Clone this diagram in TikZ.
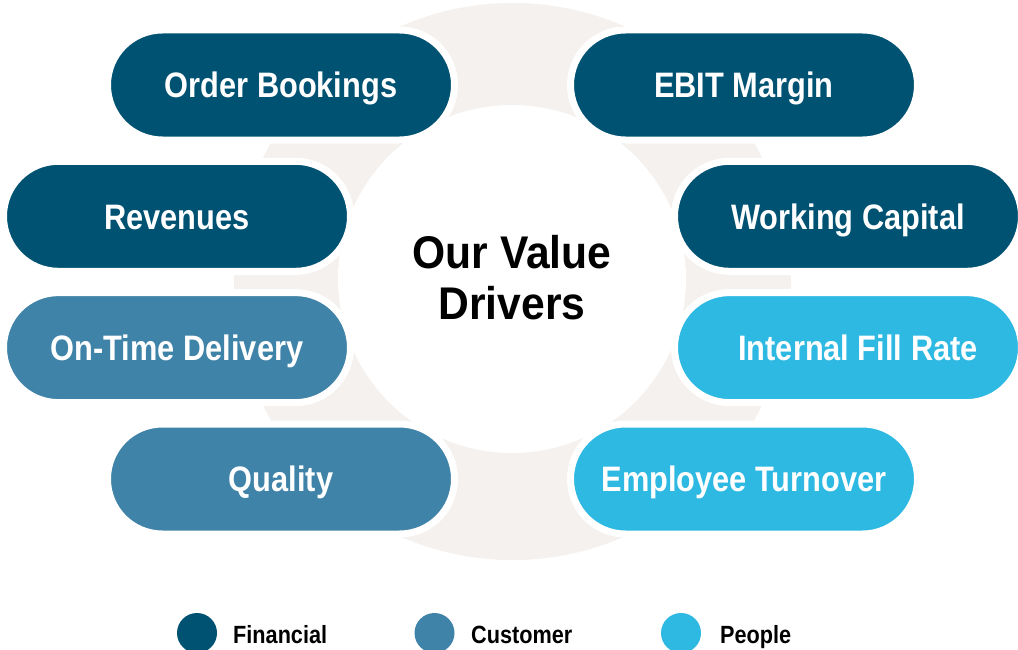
\documentclass[tikz,border=0pt]{standalone}
\usepackage{fontspec}
\setmainfont{Liberation Sans}[FakeStretch=0.87]
\newfontfamily\titlefont{Liberation Sans}[FakeStretch=0.93]
\definecolor{fin}{RGB}{0,82,115}
\definecolor{cus}{RGB}{64,131,168}
\definecolor{ppl}{RGB}{46,185,227}
\definecolor{ring}{RGB}{244,241,238}
\tikzset{
  pill/.style={draw=white, line width=7bp, rounded corners=54.9bp,
    minimum width=347bp, minimum height=110bp, inner sep=0pt,
    text height=25.5bp, text depth=0pt,
    text=white, font=\bfseries\fontsize{35.5}{40}\selectfont},
  legdot/.style={circle, minimum size=40bp, inner sep=0pt},
  legtext/.style={anchor=base west, inner sep=0pt,
    font=\bfseries\fontsize{25}{28}\selectfont}
}
\begin{document}
\begin{tikzpicture}[x=1bp, y=-1bp]
\useasboundingbox (0,0) rectangle (1018,650);
\clip (0,0) rectangle (1018,650);
\fill[white] (0,0) rectangle (1018,650);

% backdrop disc and inner white circle
\fill[ring] (512.5,281.5) circle[radius=278.5];
\fill[white] (512,279) circle[radius=174];

% centre title
\node[align=center, font=\titlefont\bfseries\fontsize{46}{51}\selectfont] (title) at (512,278)
  {Our Value\\Drivers};

% value drivers
\node[pill, fill=fin] (ob)   at (281,85)    {Order Bookings};
\node[pill, fill=fin] (ebit) at (744,85)    {EBIT Margin};
\node[pill, fill=fin] (rev)  at (177,216.3) {Revenues};
\node[pill, fill=fin] (wc)   at (848,216.3) {Working Capital};
\node[pill, fill=cus] (otd)  at (177,347.6) {On-Time Delivery};
\node[pill, fill=ppl] (ifr)  at (848,347.6) {\hspace*{20bp}Internal Fill Rate};
\node[pill, fill=cus] (qual) at (281,479)   {Quality};
\node[pill, fill=ppl] (emp)  at (744,479)   {Employee Turnover};

% legend
\node[legdot, fill=fin] (lfin) at (197,633) {};
\node[legtext] (tfin) at (233,643) {Financial};
\node[legdot, fill=cus] (lcus) at (434.5,633) {};
\node[legtext] (tcus) at (471,643) {Customer};
\node[legdot, fill=ppl] (lppl) at (681,633) {};
\node[legtext] (tppl) at (720,643) {People};
\end{tikzpicture}
\end{document}
